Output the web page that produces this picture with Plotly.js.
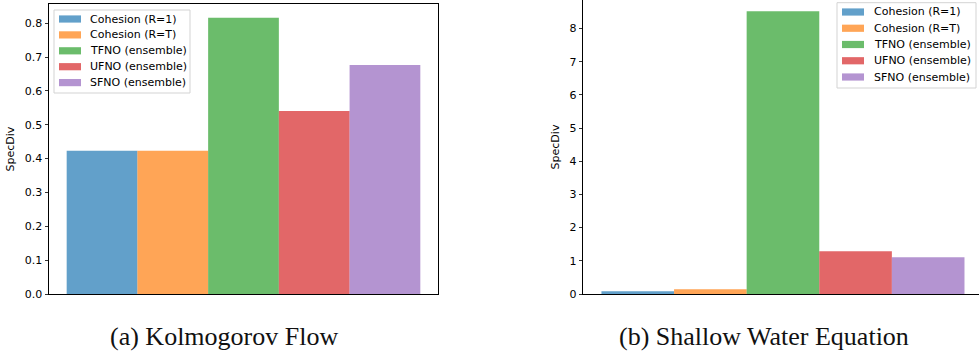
<!DOCTYPE html>
<html>
<head>
<meta charset="utf-8">
<script src="https://cdn.plot.ly/plotly-3.0.1.min.js"></script>
<style>
  html, body { margin: 0; padding: 0; background: #fff; }
  #chart { width: 979px; height: 358px; }
</style>
</head>
<body>
<div id="chart"></div>
<script>
// Spectral divergence per method, for two PDE benchmarks
const methods = ['Cohesion (R=1)', 'Cohesion (R=T)', 'TFNO (ensemble)', 'UFNO (ensemble)', 'SFNO (ensemble)'];
const kolmogorov = [0.423, 0.423, 0.816, 0.541, 0.677];
const shallowWater = [0.08, 0.14, 8.52, 1.29, 1.11];
const colors = ['rgba(31,119,180,0.7)', 'rgba(255,127,14,0.7)', 'rgba(44,160,44,0.7)',
                'rgba(214,39,40,0.7)', 'rgba(148,103,189,0.7)'];

const W = 979, H = 358;
const px = v => v / W;          // pixel -> paper x
const py = v => (H - v) / H;    // pixel (from top) -> paper y

const traces = [];
methods.forEach((m, i) => {
  traces.push({
    type: 'bar', name: m, x: [m], y: [kolmogorov[i]], width: [1],
    marker: { color: colors[i], line: { width: 0 } },
    xaxis: 'x', yaxis: 'y', showlegend: false, hoverinfo: 'name+y'
  });
});
methods.forEach((m, i) => {
  traces.push({
    type: 'bar', name: m, x: [m], y: [shallowWater[i]], width: [1],
    marker: { color: colors[i], line: { width: 0 } },
    xaxis: 'x2', yaxis: 'y2', showlegend: false, hoverinfo: 'name+y'
  });
});

const tickFont = { family: 'DejaVu Sans', size: 11, color: '#000' };

// Matplotlib-style legend box: frame, colour patches and labels
function legendBox(left, top, right, bottom, patchX, textX, rowY) {
  const shapes = [{
    type: 'rect', xref: 'paper', yref: 'paper', layer: 'above',
    x0: px(left), x1: px(right), y0: py(bottom), y1: py(top),
    fillcolor: 'rgba(255,255,255,0.8)', line: { color: '#d3d3d3', width: 1 }
  }];
  const notes = [];
  methods.forEach((m, i) => {
    const cy = rowY[0] + i * rowY[1];
    shapes.push({
      type: 'rect', xref: 'paper', yref: 'paper', layer: 'above',
      x0: px(patchX), x1: px(patchX + 22), y0: py(cy + 3.6), y1: py(cy - 3.6),
      fillcolor: colors[i], line: { width: 0 }
    });
    notes.push({
      text: m, xref: 'paper', yref: 'paper', x: px(textX), y: py(cy),
      xanchor: 'left', yanchor: 'middle', showarrow: false,
      font: { family: 'DejaVu Sans', size: 11, color: '#000' }
    });
  });
  return { shapes, notes };
}

const legA = legendBox(54, 10, 190, 93, 59, 88, [19, 15.9]);
const legB = legendBox(837, 2.7, 976, 88, 842, 872, [12, 16.25]);

const baseX = {
  type: 'category', showticklabels: false, ticks: '', showgrid: false, zeroline: false,
  showline: true, linecolor: '#000', linewidth: 1, fixedrange: true
};
const baseY = {
  showgrid: false, zeroline: false, showline: true, linecolor: '#000', linewidth: 1,
  ticks: 'outside', ticklen: 3.5, tickwidth: 0.8, tickcolor: '#000',
  tickfont: tickFont, fixedrange: true,
  title: { text: 'SpecDiv', font: { family: 'DejaVu Sans', size: 11, color: '#000' }, standoff: 7 }
};

const captionFont = { family: 'Liberation Serif', size: 26, color: '#111' };

const layout = {
  width: W, height: H,
  margin: { l: 0, r: 0, t: 0, b: 0 },
  paper_bgcolor: '#fff', plot_bgcolor: '#fff',
  barmode: 'overlay', showlegend: false,
  xaxis: Object.assign({}, baseX, {
    domain: [px(49), px(438)], range: [-0.75, 4.75], mirror: true, anchor: 'y'
  }),
  yaxis: Object.assign({}, baseY, {
    domain: [py(294), py(4.3)], range: [0, 0.856], dtick: 0.1, tickformat: '.1f',
    mirror: true, anchor: 'x'
  }),
  xaxis2: Object.assign({}, baseX, {
    domain: [px(583.3), 1], range: [-0.75, 4.70], anchor: 'y2'
  }),
  yaxis2: Object.assign({}, baseY, {
    domain: [py(294), 1], range: [0, 8.86], dtick: 1, anchor: 'x2'
  }),
  shapes: legA.shapes.concat(legB.shapes),
  annotations: legA.notes.concat(legB.notes, [
    { text: '(a) Kolmogorov Flow', xref: 'paper', yref: 'paper', x: px(224), y: py(336),
      xanchor: 'center', yanchor: 'middle', showarrow: false, font: captionFont },
    { text: '(b) Shallow Water Equation', xref: 'paper', yref: 'paper', x: px(764), y: py(336),
      xanchor: 'center', yanchor: 'middle', showarrow: false, font: captionFont }
  ])
};

Plotly.newPlot('chart', traces, layout, { displayModeBar: false, staticPlot: true });
</script>
</body>
</html>
